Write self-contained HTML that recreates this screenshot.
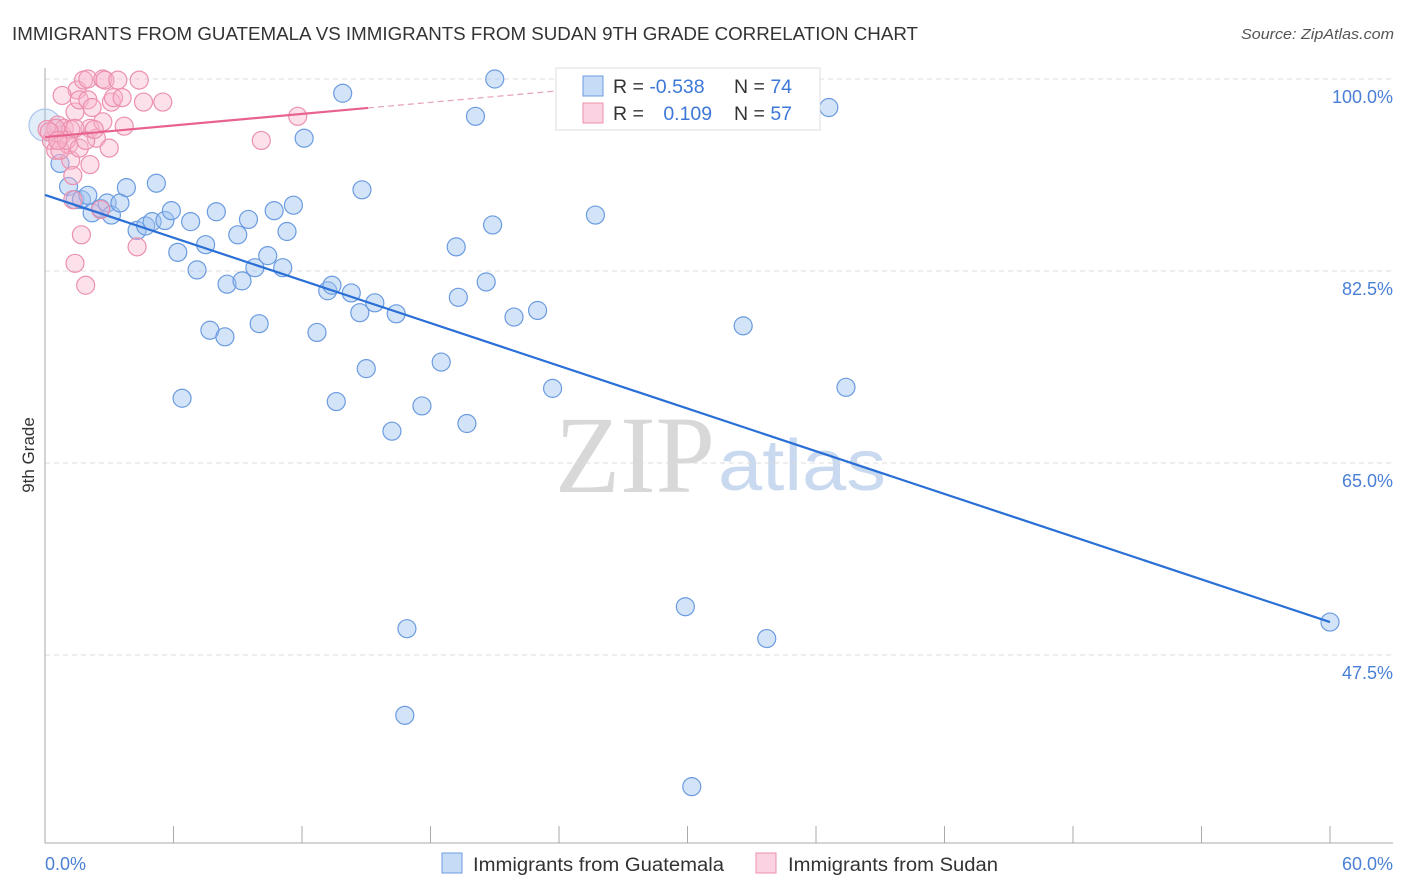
<!DOCTYPE html>
<html><head><meta charset="utf-8">
<style>
body{margin:0;background:#fff;font-family:"Liberation Sans",sans-serif;}
svg{display:block}
</style></head>
<body>
<svg id="chart" width="1406" height="892" viewBox="0 0 1406 892">
<text x="12" y="40" font-size="18" fill="#333" textLength="906" lengthAdjust="spacingAndGlyphs">IMMIGRANTS FROM GUATEMALA VS IMMIGRANTS FROM SUDAN 9TH GRADE CORRELATION CHART</text>
<text x="1241" y="39" font-size="14.5" fill="#555" font-style="italic" textLength="153" lengthAdjust="spacingAndGlyphs">Source: ZipAtlas.com</text>
<text x="635" y="492" font-size="110" fill="#d8d8d8" font-family="Liberation Serif,serif" text-anchor="middle" textLength="160" lengthAdjust="spacingAndGlyphs">ZIP</text>
<text x="718" y="490" font-size="72" fill="#c9d9f0" textLength="168" lengthAdjust="spacingAndGlyphs">atlas</text>
<g id="grid"></g>
<g id="axes"></g>
<g id="pts"></g>
<g id="trend"></g>
<text transform="translate(34,455) rotate(-90)" font-size="17" fill="#333" text-anchor="middle">9th Grade</text>
<text x="45" y="870" font-size="18" fill="#4a7fd6">0.0%</text>
<text x="1393" y="870" font-size="18" fill="#4a7fd6" text-anchor="end">60.0%</text>
<g>
<rect x="556" y="68" width="264" height="62" fill="#fff" stroke="#ddd"/>
<rect x="583" y="76" width="20" height="20" fill="rgba(160,196,240,0.6)" stroke="#6b9be0"/>
<rect x="583" y="103" width="20" height="20" fill="rgba(248,180,205,0.6)" stroke="#ec90ad"/>
<text x="613" y="93" font-size="19.5" fill="#333">R = <tspan fill="#3d78d8">-0.538</tspan></text>
<text x="734" y="93" font-size="19.5" fill="#333">N = <tspan fill="#3d78d8">74</tspan></text>
<text x="613" y="120" font-size="19.5" fill="#333">R = <tspan fill="#3d78d8" dx="14">0.109</tspan></text>
<text x="734" y="120" font-size="19.5" fill="#333">N = <tspan fill="#3d78d8">57</tspan></text>
</g>
<g>
<rect x="442" y="853" width="20" height="20" fill="rgba(160,196,240,0.6)" stroke="#6b9be0"/>
<text x="473" y="871" font-size="19" fill="#333" textLength="251" lengthAdjust="spacingAndGlyphs">Immigrants from Guatemala</text>
<rect x="756" y="853" width="20" height="20" fill="rgba(248,180,205,0.6)" stroke="#ec90ad"/>
<text x="788" y="871" font-size="19" fill="#333" textLength="210" lengthAdjust="spacingAndGlyphs">Immigrants from Sudan</text>
</g>
</svg>
<script>
const yTicks=[100,82.5,65,47.5];
const yTickLabels=["100.0%","82.5%","65.0%","47.5%"];
const xTicks=[0,6,12,18,24,30,36,42,48,54,60];
const guatX=[0.0,0.7,1.1,1.4,1.7,2.0,2.2,2.6,2.9,3.1,3.5,3.8,4.3,4.7,5.0,5.2,5.6,5.9,6.2,6.4,6.8,7.1,7.5,7.7,8.0,8.4,8.5,9.0,9.2,9.5,9.8,10.0,10.4,10.7,11.1,11.3,11.6,12.1,12.7,13.2,13.4,13.6,13.9,14.3,14.7,14.8,15.0,15.4,16.2,16.4,16.8,16.9,17.6,18.5,19.2,19.3,19.7,20.1,20.6,20.9,21.0,21.9,23.0,23.7,25.7,29.9,30.2,32.6,33.7,36.6,37.4,60.0];
const guatY=[95.8,92.3,90.2,89.0,89.0,89.4,87.8,88.2,88.7,87.6,88.7,90.1,86.2,86.6,87.0,90.5,87.1,88.0,84.2,70.9,87.0,82.6,84.9,77.1,87.9,76.5,81.3,85.8,81.6,87.2,82.8,77.7,83.9,88.0,82.8,86.1,88.5,94.6,76.9,80.7,81.2,70.6,98.7,80.5,78.7,89.9,73.6,79.6,67.9,78.6,42.0,49.9,70.2,74.2,84.7,80.1,68.6,96.6,81.5,86.7,100.0,78.3,78.9,71.8,87.6,51.9,35.5,77.5,49.0,97.4,71.9,50.5];
const sudanX=[0.1,0.3,0.5,0.6,0.8,0.9,1.1,1.2,1.3,1.4,1.4,1.5,1.6,1.7,1.8,1.9,2.0,2.0,2.1,2.1,2.2,2.4,2.6,2.7,2.7,2.8,3.0,3.1,3.2,3.4,3.6,3.7,4.3,4.4,4.6,5.5,10.1,11.8,0.8,1.2,0.7,0.5,1.0,0.2,1.4,1.6,1.9,2.3,1.3,0.6];
const sudanY=[95.4,94.4,93.5,95.8,94.9,95.5,94.0,92.6,91.2,97.0,83.2,99.0,98.1,85.8,99.9,81.2,98.1,100.0,95.5,92.2,97.4,94.6,88.1,100.0,96.1,99.9,93.7,97.9,98.3,99.9,98.3,95.7,84.7,99.9,97.9,97.9,94.4,96.6,98.5,95.4,93.5,95.5,94.4,95.2,95.5,93.7,94.4,95.4,89.0,94.4];
const guatTrend=[89.43,50.5];
const sudanTrend=[94.71,97.36,15.08,23.8];

const NS="http://www.w3.org/2000/svg";
function X(v){return 45+v/60*1285;}
function Y(v){return 79+(100-v)/17.5*192;}
function mk(tag,attrs,parent){const e=document.createElementNS(NS,tag);for(const k in attrs)e.setAttribute(k,attrs[k]);parent.appendChild(e);return e;}
const grid=document.getElementById('grid'),axes=document.getElementById('axes'),pts=document.getElementById('pts'),trend=document.getElementById('trend');
yTicks.forEach((t,i)=>{
  const l=mk('line',{x1:45,x2:1393,y1:Y(t),y2:Y(t),stroke:'#dcdcdc','stroke-dasharray':'5,4'},grid);
  
  
  const tx=mk('text',{x:1393,y:Y(t)+24,'font-size':18,fill:'#4a7fd6','text-anchor':'end'},grid);
  tx.textContent=yTickLabels[i];
  
  
});
const ya=mk('line',{x1:45,x2:45,y1:68,y2:843,stroke:'#aaa'},axes);


const xa=mk('line',{x1:45,x2:1393,y1:843,y2:843,stroke:'#aaa'},axes);


xTicks.forEach(t=>{
  const l=mk('line',{x1:X(t),x2:X(t),y1:826,y2:843,stroke:'#aaa'},axes);
  
  
});
guatX.forEach((x,i)=>{
  const c=mk('circle',{cx:X(x),cy:Y(guatY[i]),r:i===0?16:9,fill:i===0?'rgba(160,196,240,0.3)':'rgba(160,196,240,0.45)',stroke:i===0?'#a8c4ec':'#6b9be0','stroke-width':1.2},pts);
  
  
});
sudanX.forEach((x,i)=>{
  const c=mk('circle',{cx:X(x),cy:Y(sudanY[i]),r:9,fill:'rgba(248,180,205,0.4)',stroke:'#ec90ad','stroke-width':1.2},pts);
  
  
});
const bt=mk('line',{x1:X(0),y1:Y(guatTrend[0]),x2:X(60),y2:Y(guatTrend[1]),stroke:'#2a6fd6','stroke-width':2.2},trend);


const sl=(sudanTrend[1]-sudanTrend[0])/sudanTrend[2];
const pt=mk('line',{x1:X(0),y1:Y(sudanTrend[0]),x2:X(sudanTrend[2]),y2:Y(sudanTrend[1]),stroke:'#e8628e','stroke-width':2.2},trend);


const pd=mk('line',{x1:X(sudanTrend[2]),y1:Y(sudanTrend[1]),x2:X(sudanTrend[3]),y2:Y(sudanTrend[0]+sl*sudanTrend[3]),stroke:'#e8a0b8','stroke-width':1.2,'stroke-dasharray':'6,4'},trend);


</script>
</body></html>
